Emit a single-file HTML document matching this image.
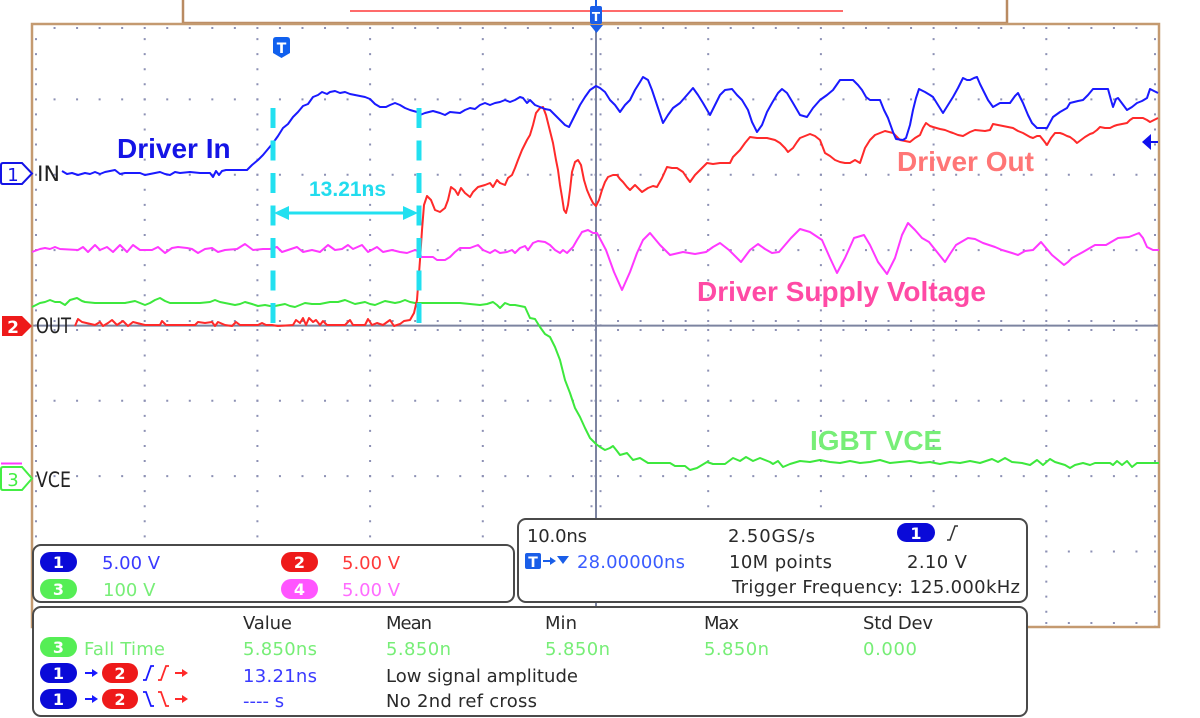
<!DOCTYPE html>
<html><head><meta charset="utf-8"><style>
html,body{margin:0;padding:0;background:#fff;}
svg{display:block;}
.pt{font-family:"DejaVu Sans","Liberation Sans",sans-serif;font-size:18px;fill:#2a2a2a;}
.lb{font-family:"Liberation Sans",sans-serif;font-weight:bold;font-size:28px;}
.pn{font-family:"DejaVu Sans","Liberation Sans",sans-serif;font-weight:bold;font-size:16px;fill:#fff;text-anchor:middle;}
</style></head><body>
<svg width="1200" height="718" viewBox="0 0 1200 718" xmlns="http://www.w3.org/2000/svg">
<rect width="1200" height="718" fill="#fff"/>
<!-- top box -->
<rect x="183" y="-2" width="824" height="25" fill="#fff" stroke="#b98b62" stroke-width="2.5"/>
<line x1="350" y1="11" x2="843" y2="11" stroke="#ff3a3a" stroke-width="1.5"/>
<!-- grid dots -->
<g stroke="#8c90b4" stroke-width="2" stroke-dasharray="2 13.07" stroke-dashoffset="1">
<line x1="144.7" y1="24" x2="144.7" y2="627"/>
<line x1="257.4" y1="24" x2="257.4" y2="627"/>
<line x1="370.1" y1="24" x2="370.1" y2="627"/>
<line x1="482.8" y1="24" x2="482.8" y2="627"/>
<line x1="708.2" y1="24" x2="708.2" y2="627"/>
<line x1="820.9" y1="24" x2="820.9" y2="627"/>
<line x1="933.6" y1="24" x2="933.6" y2="627"/>
<line x1="1046.3" y1="24" x2="1046.3" y2="627"/>
<line x1="36" y1="24" x2="36" y2="627"/>
<line x1="1155" y1="24" x2="1155" y2="627"/>
<line x1="591.5" y1="24" x2="591.5" y2="627"/>
<line x1="600.5" y1="24" x2="600.5" y2="627"/>
</g>
<g stroke="#8c90b4" stroke-width="2" stroke-dasharray="2 20.54" stroke-dashoffset="1">
<line x1="32" y1="99.4" x2="1159" y2="99.4"/>
<line x1="32" y1="174.8" x2="1159" y2="174.8"/>
<line x1="32" y1="250.1" x2="1159" y2="250.1"/>
<line x1="32" y1="400.8" x2="1159" y2="400.8"/>
<line x1="32" y1="476.1" x2="1159" y2="476.1"/>
<line x1="32" y1="551.5" x2="1159" y2="551.5"/>
<line x1="32" y1="28" x2="1159" y2="28"/>
<line x1="32" y1="623" x2="1159" y2="623"/>
<line x1="32" y1="321" x2="1159" y2="321"/>
<line x1="32" y1="330" x2="1159" y2="330"/>
</g>
<!-- center axes -->
<line x1="596" y1="24" x2="596" y2="627" stroke="#7c84a0" stroke-width="2"/>
<line x1="32" y1="325.6" x2="1159" y2="325.6" stroke="#7c84a0" stroke-width="2"/>
<!-- plot border -->
<rect x="32" y="24" width="1127" height="603" fill="none" stroke="#c49a70" stroke-width="2.5"/>

<!-- traces -->
<g fill="none" stroke-width="2" stroke-linejoin="round">
<polyline stroke="#3de83d" points="32,307 36,305 40,303 45,302 50,300 55,302 60,302 65,305 70,300 77,298 82,301 85,302 95,303 110,303 125,303 130,302 135,301 140,303 145,305 150,303 155,300 160,298 165,301 170,303 200,303 210,302 215,300 220,302 225,303 235,305 240,304 245,302 252,304 258,306 265,305 270,306 275,306 280,305 285,304 290,306 295,307 300,305 305,303 312,304 320,304 325,303 330,302 338,302 345,300 350,302 355,304 360,303 365,302 370,304 375,305 380,303 385,301 390,302 395,303 400,302 405,300 410,302 415,303 440,303 460,303 470,304 480,305 487,304 493,302 497,305 500,308 505,303 510,305 515,305 520,306 525,307 530,318 535,319 540,327 545,334 550,337 555,347 560,360 565,380 570,393 575,408 580,417 585,428 590,438 596,444 600,447 605,450 610,448 613,446 617,451 620,455 627,453 633,460 640,458 648,463 660,463 670,463 675,466 685,466 690,470 697,468 707,462 713,464 725,464 733,458 740,461 746,457 753,461 760,458 770,462 773,464 778,461 783,467 790,464 800,461 810,462 820,460 830,462 840,463 850,461 860,463 870,462 880,460 890,463 900,462 910,461 920,463 930,462 940,464 950,462 960,463 970,461 980,463 992,459 998,462 1005,458 1012,462 1022,463 1030,465 1037,460 1043,465 1050,459 1055,462 1065,465 1070,468 1075,465 1083,463 1090,465 1095,463 1110,463 1113,465 1117,461 1122,465 1127,461 1132,467 1137,463 1159,463"/>
<polyline stroke="#ff38ff" points="32,252 40,249 45,248 50,249 55,247 60,249 78,250 83,247 88,252 95,245 100,250 107,247 113,252 120,245 127,252 133,245 140,250 152,250 158,247 165,253 172,248 178,247 187,248 192,249 198,253 205,249 212,248 218,252 225,250 237,249 245,244 253,250 263,249 270,249 277,247 282,252 288,250 297,247 303,252 312,250 320,252 328,245 335,250 342,249 348,245 353,249 362,245 368,252 377,247 383,252 392,250 400,252 407,253 415,250 420,252 421,257 433,257 437,260 445,260 450,257 455,252 460,248 465,248 470,248 478,245 483,250 490,253 495,250 500,253 507,252 512,250 515,253 520,248 525,246 528,250 533,243 538,241 545,242 550,245 555,250 560,253 563,250 567,253 573,247 577,240 582,232 588,230 593,233 597,233 606,250 614,272 622,290 630,272 637,253 643,240 650,233 660,245 670,255 683,252 695,254 706,252 713,247 720,243 729,250 741,262 750,250 758,244 765,249 772,253 779,252 785,245 791,238 800,229 810,232 822,240 830,258 837,273 845,258 854,238 864,235 870,245 878,262 887,274 895,258 902,235 908,223 915,230 922,238 929,242 937,252 945,262 950,254 956,245 968,238 975,239 983,243 995,247 1002,250 1012,253 1018,255 1025,251 1033,250 1041,242 1046,248 1052,255 1058,260 1064,265 1068,262 1072,258 1083,252 1095,245 1106,245 1118,238 1129,237 1139,233 1143,238 1147,247 1153,250 1159,250"/>
<polyline stroke="#ff2a2a" points="75,326 78,319 82,322 95,325 100,322 103,326 108,323 112,320 117,325 123,321 128,326 133,322 145,325 160,325 162,321 166,325 195,325 198,322 205,323 212,322 215,326 218,322 225,325 232,326 236,322 240,325 258,325 262,323 266,325 272,325 278,326 293,325 296,320 300,323 303,318 306,325 309,318 313,322 316,320 320,325 323,321 327,325 345,325 350,320 353,325 365,325 368,319 372,325 377,323 383,325 390,320 394,326 400,324 404,321 410,320 414,313 417,300 420,260 422,230 424,205 427,196 431,200 435,210 440,212 445,208 448,200 451,187 455,190 458,195 461,188 465,193 470,197 473,192 478,187 485,185 490,183 493,187 497,180 500,183 505,185 508,178 512,175 515,168 518,160 522,150 527,140 530,135 533,125 536,113 540,108 543,107 546,115 548,123 551,135 553,143 556,160 558,170 560,185 562,197 564,210 566,213 568,205 570,190 572,172 575,162 578,160 581,165 584,180 587,190 590,197 593,203 596,206 599,200 602,190 605,182 608,177 613,175 617,175 620,179 623,182 627,187 630,190 635,185 640,190 642,192 645,190 648,188 653,186 657,187 662,178 667,167 672,168 677,168 683,172 687,178 690,182 695,175 700,170 707,163 713,164 720,163 730,163 733,157 740,150 745,143 750,137 757,138 767,138 775,140 780,143 785,148 788,152 793,148 797,142 800,138 805,136 810,134 815,136 820,140 825,153 830,156 835,160 840,162 845,163 850,163 855,160 860,163 865,148 870,140 875,135 880,133 885,131 893,133 900,140 905,141 910,142 915,138 920,135 923,128 926,123 930,126 933,127 940,129 945,130 950,132 953,133 958,135 963,136 970,132 975,130 985,131 990,130 993,124 998,125 1003,126 1008,127 1013,128 1018,131 1023,133 1030,137 1033,138 1037,136 1040,136 1044,141 1047,145 1051,138 1055,133 1060,133 1063,134 1067,136 1070,137 1074,140 1077,143 1081,140 1085,137 1090,134 1093,133 1097,130 1100,127 1105,128 1110,128 1114,126 1117,125 1122,124 1127,123 1130,120 1133,118 1138,118 1143,118 1147,120 1150,122 1154,120 1158,118"/>
<polyline stroke="#1a1aff" points="62,171 67,174 72,173 78,175 85,173 90,174 95,172 100,174 105,172 110,171 115,170 120,174 125,173 130,173 140,173 145,175 150,174 155,173 160,172 165,174 170,175 175,172 180,173 190,172 200,173 210,173 213,177 216,171 219,175 222,171 226,170 247,170 252,165 258,160 263,155 268,149 273,143 278,136 283,128 288,124 293,117 298,112 303,106 308,104 313,97 318,95 322,92 327,94 330,92 335,91 340,93 345,92 350,94 355,95 360,96 365,97 370,99 375,104 380,107 386,107 390,105 395,103 400,105 405,108 410,110 417,112 420,115 425,113 433,111 440,113 445,115 450,112 460,113 465,110 470,108 475,109 480,105 485,103 490,105 495,103 500,102 505,100 510,102 515,100 520,97 523,98 527,103 530,100 535,105 540,107 545,109 550,110 555,115 560,120 565,125 569,127 575,115 580,105 585,97 590,90 596,86 600,88 605,92 610,100 615,105 620,112 625,105 630,100 635,90 640,82 643,77 648,80 652,90 657,105 663,123 668,115 673,108 680,103 687,95 693,88 698,95 703,103 710,115 715,105 720,95 725,90 732,89 737,95 742,100 748,110 752,122 757,132 762,125 767,112 772,103 778,93 782,89 787,93 793,103 800,115 807,117 813,108 820,100 827,95 833,90 840,80 853,80 858,85 862,90 866,97 870,100 880,100 884,110 888,118 893,132 896,139 903,140 906,138 910,125 913,110 916,98 919,89 925,92 930,95 933,97 938,105 943,113 948,105 953,97 958,88 963,78 967,80 970,80 974,78 977,77 980,84 983,90 988,100 993,107 1000,103 1010,103 1015,96 1018,93 1023,103 1028,115 1032,123 1037,128 1047,128 1053,117 1060,112 1067,108 1070,103 1078,101 1083,100 1088,95 1093,89 1108,89 1111,100 1113,107 1116,99 1118,98 1121,102 1127,110 1132,107 1137,103 1142,101 1147,98 1150,89 1154,91 1158,93"/>
</g>

<!-- cyan measurement -->
<g stroke="#22e0f0" stroke-width="5" stroke-dasharray="20 12.5" fill="none">
<line x1="273" y1="108" x2="273" y2="325"/>
<line x1="419" y1="108" x2="419" y2="325"/>
</g>
<line x1="286" y1="213" x2="406" y2="213" stroke="#22e0f0" stroke-width="3"/>
<polygon points="274,213 289,206 289,220" fill="#22e0f0"/>
<polygon points="418,213 403,206 403,220" fill="#22e0f0"/>
<text x="309" y="196" font-family="Liberation Sans,sans-serif" font-weight="bold" font-size="21" fill="#22dcee">13.21ns</text>

<!-- labels -->
<text class="lb" x="117" y="158" fill="#1414e6">Driver In</text>
<text class="lb" x="897" y="171" fill="#ff7676">Driver Out</text>
<text class="lb" x="697" y="301" fill="#ff4aa5">Driver Supply Voltage</text>
<text class="lb" x="810" y="450" fill="#77ee77">IGBT VCE</text>

<!-- trigger markers -->
<path d="M273,40 q0,-3 3,-3 h11 q3,0 3,3 v13 l-8.5,5 l-8.5,-5 z" fill="#1060ee"/>
<text x="281.5" y="53" font-family="DejaVu Sans,sans-serif" font-weight="bold" font-size="14" fill="#fff" text-anchor="middle">T</text>
<rect x="590" y="6" width="12" height="18" rx="2" fill="#1a5ee8"/>
<line x1="596" y1="0" x2="596" y2="6" stroke="#1a5ee8" stroke-width="2"/>
<text x="596" y="21" font-family="DejaVu Sans,sans-serif" font-weight="bold" font-size="12" fill="#fff" text-anchor="middle">T</text>
<polygon points="590,25 603,25 596.5,33" fill="#1a5ee8"/>
<!-- right arrow ch1 -->
<polygon points="1142,142 1151,134 1151,150" fill="#1010ee"/>
<line x1="1150" y1="142" x2="1158" y2="142" stroke="#1010ee" stroke-width="2"/>

<!-- left channel markers -->
<path d="M3,163 h19 l10,10.5 l-10,10.5 h-19 q-2,0 -2,-2 v-17 q0,-2 2,-2 z" fill="#fff" stroke="#1414e6" stroke-width="2"/>
<text x="13" y="181" font-family="DejaVu Sans,sans-serif" font-size="18" fill="#1414e6" text-anchor="middle">1</text>
<text x="37" y="181" font-family="DejaVu Sans,sans-serif" font-size="21" fill="#222" textLength="23" lengthAdjust="spacingAndGlyphs">IN</text>
<path d="M2,316 h20 l10,10 l-10,10 h-20 z" fill="#ee1a1a"/>
<text x="13" y="333" font-family="DejaVu Sans,sans-serif" font-weight="bold" font-size="17" fill="#fff" text-anchor="middle">2</text>
<text x="36" y="333" font-family="DejaVu Sans,sans-serif" font-size="21" fill="#222" textLength="35" lengthAdjust="spacingAndGlyphs">OUT</text>
<line x1="1" y1="463.5" x2="22" y2="463.5" stroke="#ff38ff" stroke-width="2"/>
<path d="M3,467 h19 l10,11.5 l-10,11.5 h-19 q-2,0 -2,-2 v-19 q0,-2 2,-2 z" fill="#fff" stroke="#44ee44" stroke-width="2"/>
<text x="13" y="486" font-family="DejaVu Sans,sans-serif" font-size="18" fill="#44ee44" text-anchor="middle">3</text>
<text x="36" y="487" font-family="DejaVu Sans,sans-serif" font-size="21" fill="#222" textLength="35" lengthAdjust="spacingAndGlyphs">VCE</text>

<!-- legend panel -->
<rect x="33" y="545" width="481" height="57" rx="8" fill="#fff" stroke="#4a4a4a" stroke-width="2"/>
<rect x="40" y="552" width="37" height="20" rx="10" fill="#0a0ad8"/>
<text class="pn" x="58.5" y="568">1</text>
<text class="pt" x="102" y="569" style="fill:#3a3aff">5.00 V</text>
<rect x="281" y="552" width="37" height="20" rx="10" fill="#ee1a1a"/>
<text class="pn" x="299.5" y="568">2</text>
<text class="pt" x="342" y="569" style="fill:#ff3a3a">5.00 V</text>
<rect x="40" y="579" width="37" height="20" rx="10" fill="#55ee55"/>
<text class="pn" x="58.5" y="595">3</text>
<text class="pt" x="103" y="596" style="fill:#77ee77">100 V</text>
<rect x="281" y="579" width="37" height="20" rx="10" fill="#ff55ff"/>
<text class="pn" x="299.5" y="595">4</text>
<text class="pt" x="342" y="596" style="fill:#ff6cff">5.00 V</text>

<!-- trigger panel -->
<rect x="518" y="519" width="509" height="83" rx="8" fill="#fff" stroke="#4a4a4a" stroke-width="2"/>
<text class="pt" x="527" y="542" textLength="60">10.0ns</text>
<text class="pt" x="728" y="542" textLength="87">2.50GS/s</text>
<rect x="897" y="523" width="38" height="19" rx="9.5" fill="#0a0ad8"/>
<text class="pn" x="916" y="539">1</text>
<path d="M947,540 h3 l5,-14 h3" fill="none" stroke="#333" stroke-width="1.5"/>
<rect x="525" y="553" width="16" height="16" rx="2" fill="#1a5ee8"/>
<text x="533" y="567" font-family="DejaVu Sans,sans-serif" font-weight="bold" font-size="14" fill="#fff" text-anchor="middle">T</text>
<line x1="543" y1="561" x2="551" y2="561" stroke="#1a5ee8" stroke-width="2"/>
<polygon points="550,557 556,561 550,565" fill="#1a5ee8"/>
<polygon points="557,556 569,556 563,564" fill="#1a5ee8"/>
<text class="pt" x="577" y="568" style="fill:#3a5cff" textLength="108">28.00000ns</text>
<text class="pt" x="729" y="568" textLength="103">10M points</text>
<text class="pt" x="907" y="568" textLength="60">2.10 V</text>
<text class="pt" x="732" y="593" textLength="288">Trigger Frequency: 125.000kHz</text>

<!-- measurement panel -->
<rect x="33" y="607" width="994" height="109" rx="8" fill="#fff" stroke="#4a4a4a" stroke-width="2"/>
<text class="pt" x="243" y="629" textLength="49">Value</text>
<text class="pt" x="386" y="629" textLength="46">Mean</text>
<text class="pt" x="545" y="629" textLength="32">Min</text>
<text class="pt" x="704" y="629" textLength="35">Max</text>
<text class="pt" x="863" y="629" textLength="70">Std Dev</text>
<rect x="40" y="637" width="37" height="20" rx="10" fill="#55ee55"/>
<text class="pn" x="58.5" y="653">3</text>
<text class="pt" x="84" y="655" style="fill:#77ee77" textLength="81">Fall Time</text>
<text class="pt" x="243" y="655" style="fill:#77ee77" textLength="74">5.850ns</text>
<text class="pt" x="386" y="655" style="fill:#77ee77" textLength="65">5.850n</text>
<text class="pt" x="545" y="655" style="fill:#77ee77" textLength="65">5.850n</text>
<text class="pt" x="704" y="655" style="fill:#77ee77" textLength="65">5.850n</text>
<text class="pt" x="863" y="655" style="fill:#77ee77" textLength="54">0.000</text>

<rect x="40" y="663" width="37" height="20" rx="10" fill="#0a0ad8"/>
<text class="pn" x="58.5" y="679">1</text>
<line x1="85" y1="673" x2="93" y2="673" stroke="#1a1aff" stroke-width="2"/>
<polygon points="92,669 98,673 92,677" fill="#1a1aff"/>
<rect x="102" y="663" width="36" height="20" rx="10" fill="#ee1a1a"/>
<text class="pn" x="120" y="679">2</text>
<path d="M143,680 h3 l5,-14 h3" fill="none" stroke="#1a1aff" stroke-width="1.8"/>
<path d="M158,680 h3 l5,-14 h3" fill="none" stroke="#ff2a2a" stroke-width="1.8"/>
<line x1="175" y1="673" x2="183" y2="673" stroke="#ff2a2a" stroke-width="2"/>
<polygon points="182,669 188,673 182,677" fill="#ff2a2a"/>
<text class="pt" x="243" y="682" style="fill:#3a3aff" textLength="74">13.21ns</text>
<text class="pt" x="386" y="682" textLength="192">Low signal amplitude</text>

<rect x="40" y="689" width="37" height="20" rx="10" fill="#0a0ad8"/>
<text class="pn" x="58.5" y="705">1</text>
<line x1="85" y1="699" x2="93" y2="699" stroke="#1a1aff" stroke-width="2"/>
<polygon points="92,695 98,699 92,703" fill="#1a1aff"/>
<rect x="102" y="689" width="36" height="20" rx="10" fill="#ee1a1a"/>
<text class="pn" x="120" y="705">2</text>
<path d="M143,692 h3 l5,14 h3" fill="none" stroke="#1a1aff" stroke-width="1.8"/>
<path d="M158,692 h3 l5,14 h3" fill="none" stroke="#ff2a2a" stroke-width="1.8"/>
<line x1="175" y1="699" x2="183" y2="699" stroke="#ff2a2a" stroke-width="2"/>
<polygon points="182,695 188,699 182,703" fill="#ff2a2a"/>
<text class="pt" x="243" y="707" style="fill:#3a3aff">---- s</text>
<text class="pt" x="386" y="707" textLength="151">No 2nd ref cross</text>
</svg>
</body></html>
